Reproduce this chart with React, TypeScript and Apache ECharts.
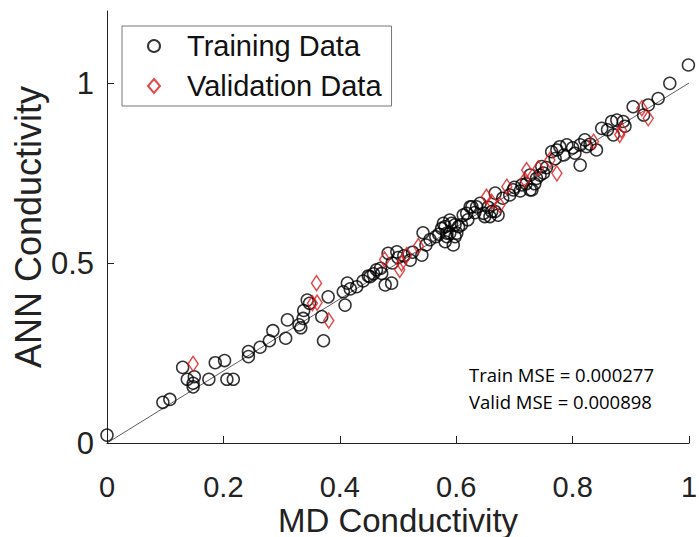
import React, { useEffect, useRef } from "react";
import * as echarts from "echarts";

const trainX = [
  0.0, 0.096, 0.108, 0.13, 0.138, 0.15, 0.148, 0.148, 0.175, 0.186, 0.202, 0.206, 0.217,
  0.243, 0.243, 0.263, 0.279, 0.285, 0.307, 0.31, 0.33, 0.333, 0.337, 0.338, 0.344, 0.348,
  0.369, 0.372, 0.38, 0.406, 0.413, 0.409, 0.429, 0.418, 0.44, 0.449, 0.452, 0.458, 0.463,
  0.472, 0.47, 0.478, 0.489, 0.483, 0.49, 0.498, 0.5, 0.51, 0.521, 0.525, 0.541, 0.543,
  0.548, 0.555, 0.565, 0.57, 0.575, 0.578, 0.581, 0.581, 0.584, 0.584, 0.589, 0.589, 0.592,
  0.595, 0.598, 0.598, 0.601, 0.604, 0.609, 0.612, 0.618, 0.62, 0.624, 0.627, 0.632, 0.635,
  0.641, 0.647, 0.649, 0.655, 0.658, 0.661, 0.667, 0.667, 0.672, 0.68, 0.692, 0.698, 0.7,
  0.71, 0.713, 0.72, 0.727, 0.73, 0.727, 0.735, 0.738, 0.744, 0.747, 0.75, 0.755, 0.764,
  0.77, 0.773, 0.778, 0.785, 0.79, 0.8, 0.804, 0.813, 0.813, 0.821, 0.824, 0.83, 0.841,
  0.85, 0.86, 0.867, 0.876, 0.887, 0.87, 0.89, 0.904, 0.922, 0.93, 0.947, 0.967, 0.999,
];
const trainY = [
  0.022, 0.113, 0.121, 0.21, 0.177, 0.184, 0.166, 0.156, 0.177, 0.223, 0.229, 0.177, 0.177,
  0.254, 0.24, 0.266, 0.284, 0.312, 0.291, 0.342, 0.328, 0.32, 0.346, 0.368, 0.397, 0.388,
  0.351, 0.284, 0.406, 0.42, 0.444, 0.383, 0.434, 0.428, 0.45, 0.464, 0.462, 0.47, 0.481,
  0.471, 0.485, 0.439, 0.444, 0.527, 0.5, 0.531, 0.515, 0.52, 0.508, 0.53, 0.522, 0.584,
  0.55, 0.565, 0.573, 0.58, 0.596, 0.61, 0.601, 0.559, 0.583, 0.573, 0.619, 0.583, 0.61,
  0.55, 0.606, 0.573, 0.583, 0.601, 0.606, 0.633, 0.638, 0.62, 0.656, 0.656, 0.64, 0.656,
  0.666, 0.638, 0.629, 0.655, 0.629, 0.643, 0.643, 0.694, 0.633, 0.68, 0.689, 0.703, 0.71,
  0.7, 0.717, 0.72, 0.703, 0.703, 0.744, 0.72, 0.735, 0.744, 0.768, 0.75, 0.765, 0.809,
  0.79, 0.814, 0.823, 0.8, 0.828, 0.82, 0.805, 0.828, 0.772, 0.842, 0.823, 0.83, 0.814,
  0.874, 0.87, 0.893, 0.897, 0.893, 0.856, 0.88, 0.934, 0.911, 0.939, 0.957, 0.999, 1.05,
];
const validX = [
  0.148, 0.36, 0.353, 0.361, 0.381, 0.477, 0.503, 0.506, 0.515, 0.535, 0.652, 0.661, 0.675,
  0.687, 0.718, 0.721, 0.741, 0.761, 0.773, 0.836, 0.884, 0.881, 0.919, 0.93,
];
const validY = [
  0.22, 0.444, 0.388, 0.39, 0.34, 0.51, 0.481, 0.499, 0.522, 0.547, 0.684, 0.67, 0.661,
  0.712, 0.731, 0.758, 0.763, 0.786, 0.749, 0.837, 0.869, 0.856, 0.93, 0.902,
];
const xTicks = [0, 0.2, 0.4, 0.6, 0.8, 1];
const yTicks = [0, 0.5, 1];
const fitLine = [
  [0, 0],
  [1, 1],
];
const statLines = ["Train MSE = 0.000277", "Valid MSE = 0.000898"];

const FONT = "'Liberation Sans', Arial, Helvetica, sans-serif";

export default function App() {
  const ref = useRef<HTMLDivElement>(null);
  useEffect(() => {
    document.body.style.margin = "0";
    if (!ref.current) return;
    const chart = echarts.init(ref.current, null, { renderer: "svg" });
    const trainData = trainX.map((x, i) => [x, trainY[i]]);
    const validData = validX.map((x, i) => [x, validY[i]]);
    chart.setOption({
      animation: false,
      backgroundColor: "#fff",
      grid: { left: 107, right: 10, top: 11, bottom: 94, containLabel: false, outerBoundsMode: "none" },
      xAxis: {
        type: "value",
        min: 0,
        max: 1,
        interval: 0.2,
        name: "MD Conductivity",
        nameLocation: "middle",
        nameGap: 62,
        nameMoveOverlap: false,
        nameTextStyle: { fontFamily: FONT, fontSize: 33, lineHeight: 30, color: "#222" },
        axisLine: { show: true, onZero: false, lineStyle: { color: "#222", width: 1 } },
        axisTick: { show: true, inside: true, length: 7, customValues: xTicks, lineStyle: { color: "#222" } },
        axisLabel: { customValues: xTicks, margin: 31, lineHeight: 26, fontFamily: FONT, fontSize: 29, color: "#222" },
        splitLine: { show: false },
      },
      yAxis: {
        type: "value",
        min: 0,
        max: 1.2,
        interval: 0.5,
        name: "ANN Conductivity",
        nameLocation: "middle",
        nameGap: 61,
        nameMoveOverlap: false,
        nameTextStyle: { fontFamily: FONT, fontSize: 36, color: "#222" },
        axisLine: { show: true, onZero: false, lineStyle: { color: "#222", width: 1 } },
        axisTick: { show: true, inside: true, length: 7, customValues: yTicks, lineStyle: { color: "#222" } },
        axisLabel: { customValues: yTicks, margin: 13, fontFamily: FONT, fontSize: 31, color: "#222" },
        splitLine: { show: false },
      },
      legend: {
        orient: "vertical",
        left: 122,
        top: 26,
        padding: [5, 10, 5, 25],
        itemGap: 10,
        itemWidth: 12,
        itemHeight: 14,
        borderColor: "#777",
        borderWidth: 1,
        backgroundColor: "#fff",
        textStyle: { fontFamily: FONT, fontSize: 29, color: "#111", lineHeight: 30, padding: [0, 0, 0, 22] },
        data: [
          { name: "Training Data", icon: "circle" },
          { name: "Validation Data", icon: "diamond" },
        ],
      },
      series: [
        {
          type: "line",
          data: fitLine,
          symbol: "none",
          lineStyle: { color: "#333", width: 0.8 },
          silent: true,
          z: 1,
        },
        {
          name: "Training Data",
          type: "scatter",
          data: trainData,
          symbol: "circle",
          symbolSize: 12,
          itemStyle: { color: "rgba(0,0,0,0)", borderColor: "#000", borderWidth: 1.5 },
          z: 2,
        },
        {
          name: "Validation Data",
          type: "scatter",
          data: validData,
          symbol: "diamond",
          symbolSize: [10, 15],
          itemStyle: { color: "rgba(0,0,0,0)", borderColor: "#e0191b", borderWidth: 1.5 },
          z: 3,
        },
      ],
      graphic: statLines.map((t, i) => ({
        type: "text",
        left: 469,
        top: 365 + i * 27,
        style: { text: t, fontFamily: "'Open Sans', 'Noto Sans', sans-serif", fontSize: 18.5, fill: "#000" },
      })),
    });
    return () => chart.dispose();
  }, []);
  return (
    <div
      ref={ref}
      style={{ position: "absolute", left: 0, top: 0, width: 699, height: 537 }}
    />
  );
}
